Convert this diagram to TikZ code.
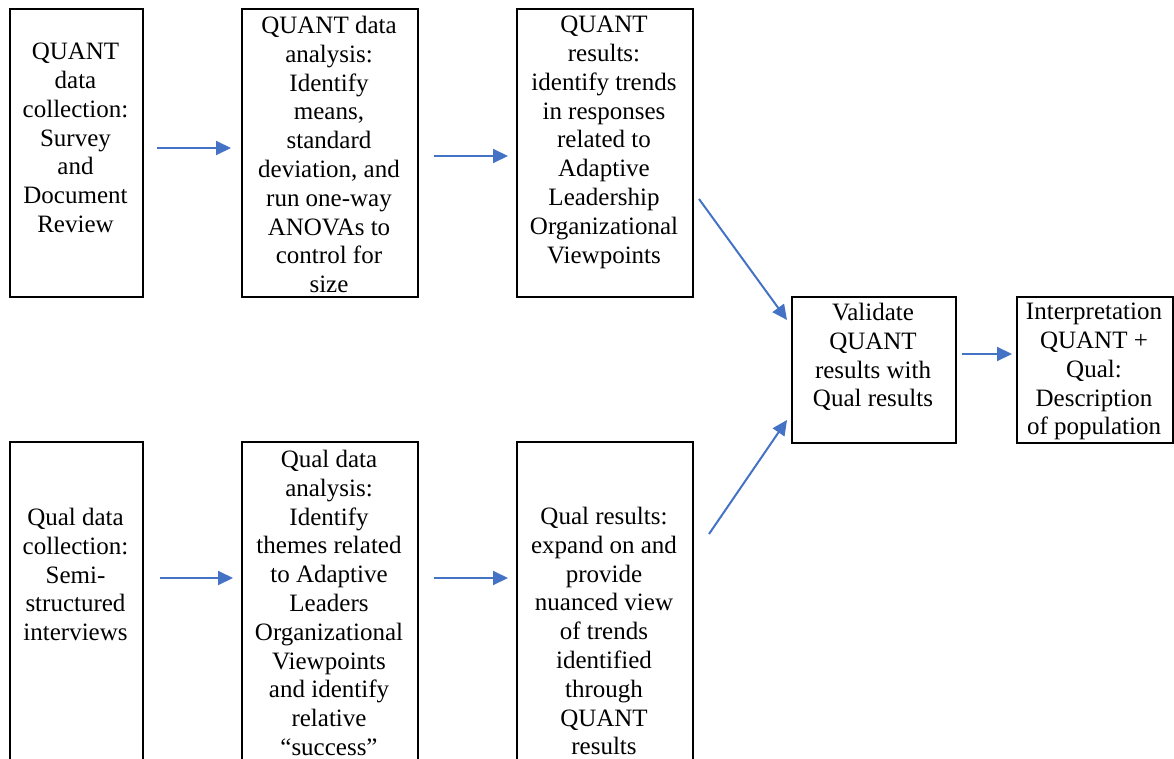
\documentclass[tikz,border=0pt]{standalone}
\usepackage{fontspec}
\setmainfont{Liberation Serif}
\usetikzlibrary{arrows.meta,calc}
\definecolor{flowblue}{RGB}{68,114,196}
\begin{document}
\begin{tikzpicture}[x=1pt,y=-1pt,
  box/.style={draw=black,line width=2pt,inner sep=0pt,anchor=north west},
  txt/.style={align=center,inner sep=0pt,anchor=north,font=\fontsize{25}{28.8}\selectfont},
  arr/.style={draw=flowblue,line width=2pt,-{Triangle[length=15pt,width=14pt]}}]
\useasboundingbox (0,0) rectangle (1174,759);
\clip (0,0) rectangle (1174,759);

% quantitative strand
\node[box,minimum width=133pt,minimum height=288pt] (b1) at (9,8) {};
\node[box,minimum width=176pt,minimum height=288pt] (b2) at (241,8) {};
\node[box,minimum width=176pt,minimum height=288pt] (b3) at (516,8) {};
% merge and interpretation
\node[box,minimum width=164pt,minimum height=146pt] (b4) at (791,296) {};
\node[box,minimum width=156pt,minimum height=146pt] (b5) at (1016,296) {};
% qualitative strand
\node[box,minimum width=133pt,minimum height=340pt] (b6) at (9,441) {};
\node[box,minimum width=176pt,minimum height=340pt] (b7) at (241,441) {};
\node[box,minimum width=176pt,minimum height=340pt] (b8) at (516,441) {};

% box texts
\node[txt] (t1) at (75.5,43) {QUANT\\data\\collection:\\Survey\\and\\Document\\Review};
\node[txt] (t2) at (329,16) {QUANT data\\analysis:\\Identify\\means,\\standard\\deviation, and\\run one-way\\ANOVAs to\\control for\\size};
\node[txt] (t3) at (604,16) {QUANT\\results:\\identify trends\\in responses\\related to\\Adaptive\\Leadership\\Organizational\\Viewpoints};
\node[txt] (t4) at (873,303) {Validate\\QUANT\\results with\\Qual results};
\node[txt] (t5) at (1094,303) {Interpretation\\QUANT +\\Qual:\\Description\\of population};
\node[txt] (t6) at (75.5,508) {Qual data\\collection:\\Semi-\\structured\\interviews};
\node[txt] (t7) at (329,450) {Qual data\\analysis:\\Identify\\themes related\\to Adaptive\\Leaders\\Organizational\\Viewpoints\\and identify\\relative\\“success”};
\node[txt] (t8) at (604,507) {Qual results:\\expand on and\\provide\\nuanced view\\of trends\\identified\\through\\QUANT\\results};

% connectors
\draw[arr,shorten <=13pt,shorten >=10pt] (b1.east |- 0,148) -- (b2.west |- 0,148);
\draw[arr,shorten <=15pt,shorten >=8pt] (b2.east |- 0,156) -- (b3.west |- 0,156);
\draw[arr,shorten <=16pt,shorten >=8pt] (b6.east |- 0,578) -- (b7.west |- 0,578);
\draw[arr,shorten <=15pt,shorten >=8pt] (b7.east |- 0,578) -- (b8.west |- 0,578);
\draw[arr,shorten <=5pt,shorten >=4pt] (b4.east |- 0,354) -- (b5.west |- 0,354);
\coordinate (d1s) at ($(b3.north east)+(5,191)$);
\coordinate (d1e) at ($(b4.north west)+(-4,24)$);
\coordinate (d2s) at ($(b8.north east)+(15,93)$);
\coordinate (d2e) at ($(b4.north west)+(-4,124)$);
\draw[arr] (d1s) -- (d1e);
\draw[arr] (d2s) -- (d2e);
\end{tikzpicture}
\end{document}
